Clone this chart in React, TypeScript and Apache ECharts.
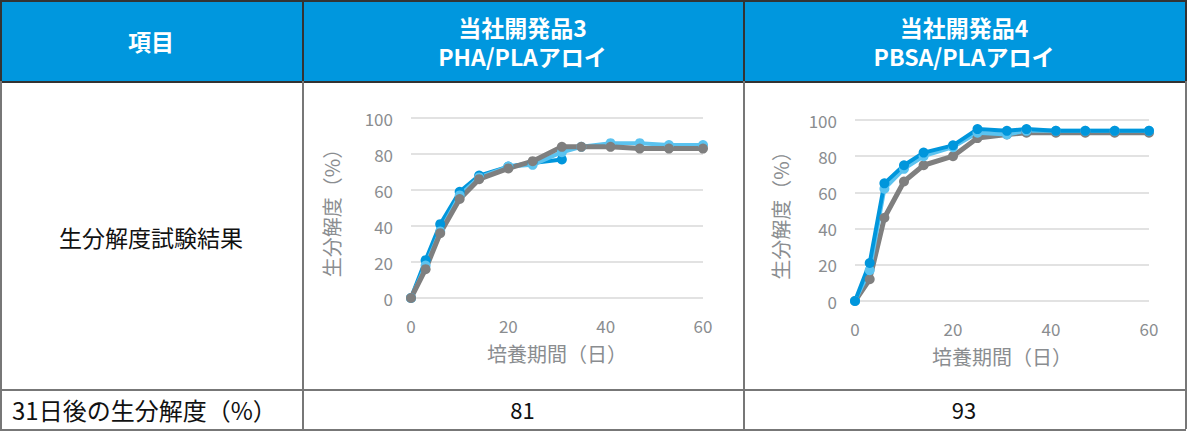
import React, { useEffect, useRef } from 'react';
import * as echarts from 'echarts';

// 培養日数（両チャート共通）
const days = [0, 3, 6, 10, 14, 20, 25, 31, 35, 41, 47, 53, 60];

// 当社開発品3 PHA/PLAアロイ
const pha_dark = [0, 21, 41, 59, 68, 73, 75, 77];
const pha_light = [0, 18, 37, 57, 67, 73, 74, 81, 84, 86, 86, 85, 85];
const pha_gray = [0, 16, 36, 55, 66, 72, 76, 84, 84, 84, 83, 83, 83];

// 当社開発品4 PBSA/PLAアロイ
const pbsa_dark = [0, 21, 65, 75, 82, 86, 95, 94, 95, 94, 94, 94, 94];
const pbsa_light = [0, 17, 62, 73, 80, 85, 93, 92, 94, 94, 94, 94, 94];
const pbsa_gray = [0, 12, 46, 66, 75, 80, 90, 92, 93, 93, 93, 93, 93];

const yTicks = [0, 20, 40, 60, 80, 100];

const headers = ['項目', '当社開発品3\nPHA/PLAアロイ', '当社開発品4\nPBSA/PLAアロイ'];
const rowLabels = ['生分解度試験結果', '31日後の生分解度（%）'];
const after31 = ['81', '93'];

const DARK = '#0096dc';
const LIGHT = '#5bc3f0';
const GRAY = '#7f7f7f';
const FONT = '"Noto Sans CJK JP", "Noto Sans", sans-serif';

const pair = (vals: number[]) => vals.map((v, i) => [days[i], v]);

const lineSeries = (name: string, vals: number[], color: string, width: number) => ({
  name,
  type: 'line',
  data: pair(vals),
  symbol: 'circle',
  symbolSize: 10,
  lineStyle: { color, width },
  itemStyle: { color },
});

const buildOption = (series: any[], grid: any, yGap: number) => ({
  animation: false,
  grid,
  xAxis: {
    type: 'value',
    min: 0,
    max: 60,
    interval: 20,
    name: '培養期間（日）',
    nameLocation: 'middle',
    nameGap: 45,
    nameTextStyle: { color: '#8a8d90', fontSize: 20, fontFamily: FONT },
    axisLine: { show: false },
    axisTick: { show: false },
    splitLine: { show: false },
    axisLabel: { color: '#8a8d90', fontSize: 17, margin: 19, fontFamily: FONT },
  },
  yAxis: {
    type: 'value',
    min: yTicks[0],
    max: yTicks[yTicks.length - 1],
    interval: 20,
    name: '生分解度（%）',
    nameLocation: 'middle',
    nameGap: yGap,
    nameRotate: 90,
    nameTextStyle: { color: '#8a8d90', fontSize: 20, fontFamily: FONT },
    axisLine: { show: false },
    axisTick: { show: false },
    splitLine: { lineStyle: { color: '#d9d9d9', width: 1.5 } },
    axisLabel: { color: '#8a8d90', fontSize: 17, margin: 18, fontFamily: FONT },
  },
  series,
});

const Chart: React.FC<{ option: any; style: React.CSSProperties }> = ({ option, style }) => {
  const ref = useRef<HTMLDivElement>(null);
  useEffect(() => {
    if (!ref.current) return;
    const chart = echarts.init(ref.current, null, { renderer: 'svg' });
    chart.setOption(option);
    return () => chart.dispose();
  }, [option]);
  return <div ref={ref} style={{ position: 'absolute', ...style }} />;
};

const optPha = buildOption(
  [
    lineSeries('dark', pha_dark, DARK, 4),
    lineSeries('light', pha_light, LIGHT, 4),
    lineSeries('gray', pha_gray, GRAY, 5),
  ],
  { left: 108, right: 40, top: 36, bottom: 91 },
  70
);

const optPbsa = buildOption(
  [
    lineSeries('gray', pbsa_gray, GRAY, 5),
    lineSeries('light', pbsa_light, LIGHT, 4),
    lineSeries('dark', pbsa_dark, DARK, 4),
  ],
  { left: 111, right: 36, top: 38, bottom: 88 },
  65
);

const cols = [0, 302, 743, 1185];
const rows = [0, 81, 389, 429];

const App: React.FC = () => {
  const cell = (x0: number, x1: number, y0: number, y1: number, extra: React.CSSProperties, text: string, key: string) => (
    <div
      key={key}
      style={{
        position: 'absolute',
        left: x0,
        top: y0,
        width: x1 - x0,
        height: y1 - y0,
        display: 'flex',
        alignItems: 'center',
        justifyContent: 'center',
        textAlign: 'center',
        whiteSpace: 'pre-line',
        fontFamily: FONT,
        boxSizing: 'border-box',
        ...extra,
      }}
    >
      {text}
    </div>
  );

  return (
    <div style={{ position: 'fixed', left: 0, top: 0, width: 1187, height: 440, background: '#fff', overflow: 'hidden' }}>
      {/* ヘッダー */}
      <div style={{ position: 'absolute', left: 1, top: 1, width: cols[3] - 1, height: rows[1] - 1, background: '#0097de' }} />
      {headers.map((h, i) =>
        cell(cols[i], cols[i + 1], rows[0], rows[1], { color: '#fff', fontWeight: 700, fontSize: 23, lineHeight: '29px', paddingTop: 2 }, h, 'h' + i)
      )}
      {cell(cols[0], cols[1], rows[1], rows[2], { color: '#111', fontSize: 23, paddingTop: 3 }, rowLabels[0], 'r1')}
      {cell(cols[0], cols[1], rows[2], rows[3], { color: '#111', fontSize: 24, justifyContent: 'flex-start', paddingLeft: 12 }, rowLabels[1], 'r2')}
      {after31.map((v, i) => cell(cols[i + 1], cols[i + 2], rows[2], rows[3], { color: '#111', fontSize: 22 }, v, 'v' + i))}

      <Chart option={optPha} style={{ left: 303, top: 82, width: 440, height: 307 }} />
      <Chart option={optPbsa} style={{ left: 744, top: 82, width: 441, height: 307 }} />

      {/* 罫線 */}
      <div style={{ position: 'absolute', left: 0, top: 0, width: cols[3] + 1, height: 1.5, background: '#333' }} />
      <div style={{ position: 'absolute', left: 0, top: rows[1], width: cols[3] + 1, height: 1.5, background: '#333' }} />
      <div style={{ position: 'absolute', left: 0, top: rows[2], width: cols[3] + 1, height: 1.5, background: '#777' }} />
      <div style={{ position: 'absolute', left: 0, top: rows[3], width: cols[3] + 1, height: 1.5, background: '#777' }} />
      {cols.map((x, i) => (
        <React.Fragment key={'c' + i}>
          <div style={{ position: 'absolute', left: x, top: 0, width: 1.5, height: rows[1], background: '#333' }} />
          <div style={{ position: 'absolute', left: x, top: rows[1], width: 1.5, height: rows[3] - rows[1], background: '#777' }} />
        </React.Fragment>
      ))}
    </div>
  );
};

export default App;
